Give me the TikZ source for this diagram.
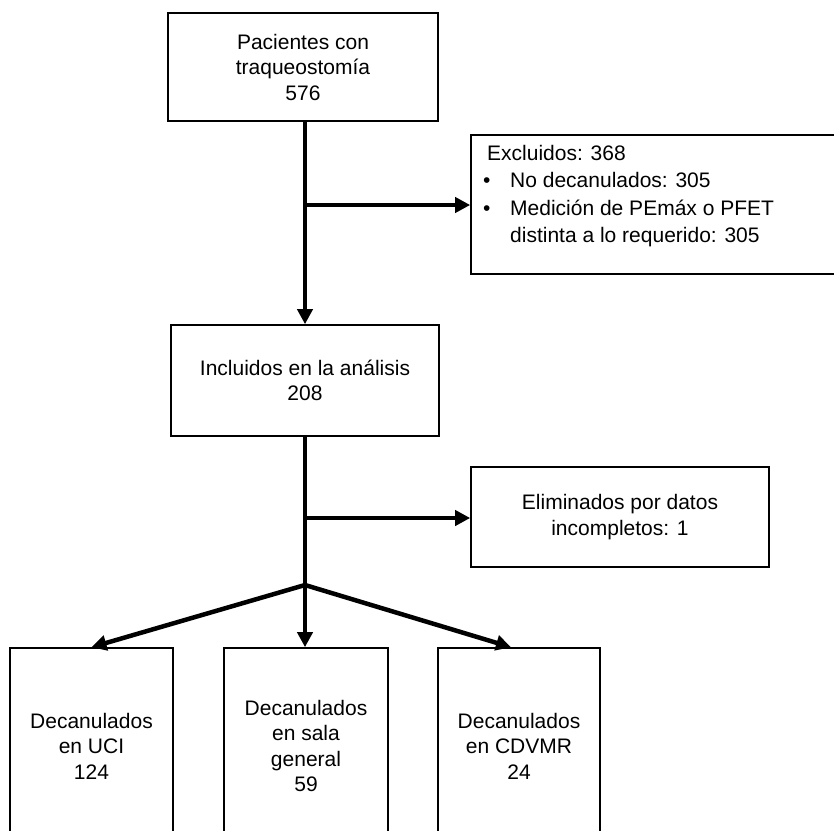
\documentclass[tikz,border=0pt]{standalone}
\usepackage{fontspec}
\setmainfont{Liberation Sans}
\usetikzlibrary{arrows.meta}
\begin{document}
\begin{tikzpicture}[x=1pt,y=-1pt,
  box/.style={draw, line width=1.6pt, inner sep=0pt, align=center,
    font=\fontsize{21}{25.5}\selectfont},
  txt/.style={inner sep=0pt, align=left, font=\fontsize{21}{27.5}\selectfont},
  flow/.style={line width=4.5pt, -{Triangle[length=15pt,width=15pt]}},
  trunk/.style={line width=4.5pt}]
\useasboundingbox (0,0) rectangle (834,830);
\clip (0,0) rectangle (834,830);
% boxes
\node[box, minimum width=270pt, minimum height=108pt] (top) at (303,67)
  {Pacientes con\\traqueostomía\\576};
\node[box, minimum width=379pt, minimum height=139pt] (excl) at (660.5,204.5) {};
\node[txt, anchor=north west] (excltext) at (487,145)
  {Excluidos: 368\\
   \hspace*{-4pt}\makebox[27pt][l]{\textbullet}No decanulados: 305\\
   \hspace*{-4pt}\makebox[27pt][l]{\textbullet}Medición de PEmáx o PFET\\
   \hspace*{23pt}distinta a lo requerido: 305};
\node[box, minimum width=268pt, minimum height=111pt] (mid) at (305,380.5)
  {Incluidos en la análisis\\208};
\node[box, minimum width=298pt, minimum height=100pt] (elim) at (620,517)
  {Eliminados por datos\\incompletos: 1};
\node[box, minimum width=163pt, minimum height=196pt] (uci) at (91.5,746)
  {Decanulados\\en UCI\\124};
\node[box, minimum width=164pt, minimum height=196pt] (sala) at (306,746)
  {Decanulados\\en sala\\general\\59};
\node[box, minimum width=162pt, minimum height=196pt] (cdv) at (519,746)
  {Decanulados\\en CDVMR\\24};
% connectors
\coordinate (b1) at (305,205);
\coordinate (b2) at (305,518);
\coordinate (fork) at (305,585);
\draw[flow] (top.south -| mid.north) -- (mid.north);
\draw[flow] (b1) -- (excl.west |- b1);
\draw[trunk] (mid.south -| fork) -- (fork);
\draw[flow] (b2) -- (elim.west |- b2);
\draw[flow] (fork) -- (uci.north);
\draw[flow] (fork) -- (sala.north -| fork);
\draw[flow] (fork) -- ([xshift=-8pt]cdv.north);
\end{tikzpicture}
\end{document}
